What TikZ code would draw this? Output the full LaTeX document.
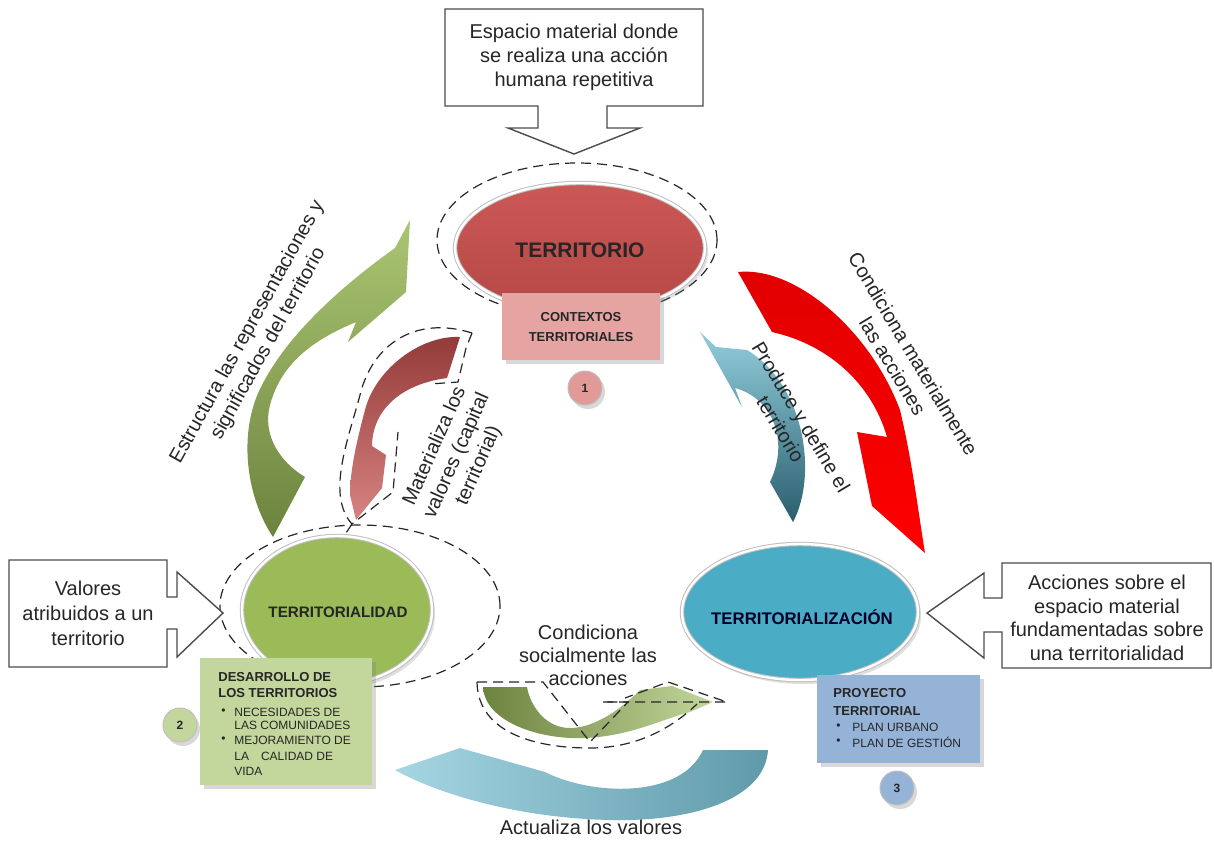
\documentclass[tikz,border=0pt]{standalone}
\usepackage{fontspec}
\setmainfont{Liberation Sans}
\usetikzlibrary{shapes.geometric,shadows}
\definecolor{tRed}{HTML}{C44E4C}
\definecolor{tRedTop}{HTML}{CC5856}
\definecolor{tGreen}{HTML}{9BBB59}
\definecolor{tBlue}{HTML}{4BACC6}
\definecolor{boxRed}{HTML}{E5A3A2}
\definecolor{boxGreen}{HTML}{C3D69B}
\definecolor{boxBlue}{HTML}{95B3D7}
\definecolor{txt}{HTML}{262626}
\begin{document}
\begin{tikzpicture}[x=0.5pt,y=-0.5pt,
  callout/.style={draw=black!70, fill=white, line width=0.7pt, line join=miter},
  ctext/.style={font=\fontsize{10}{12}\selectfont, align=center, inner sep=0pt, text=txt},
  dashline/.style={draw=black!85, dash pattern=on 5pt off 3pt, line width=0.6pt},
  ring/.style={ellipse, dashline, inner sep=0pt},
  mainell/.style={ellipse, draw=black!25, double=white, double distance=1.2pt, line width=0.5pt, inner sep=0pt,
     drop shadow={opacity=0.25, shadow xshift=1.5pt, shadow yshift=-2pt}},
  infobox/.style={rectangle, draw=none, inner sep=0pt,
     drop shadow={opacity=0.3, shadow xshift=2pt, shadow yshift=-2pt}},
  numc/.style={circle, minimum size=17pt, inner sep=0pt, draw=black!25, line width=0.5pt,
     font=\fontsize{6}{7}\selectfont\bfseries, text=txt,
     drop shadow={opacity=0.3, shadow xshift=1.5pt, shadow yshift=-2pt}},
  boxhead/.style={font=\fontsize{6.5}{8}\selectfont\bfseries, anchor=west, inner sep=0pt, text=txt},
  boxitem/.style={font=\fontsize{6}{7}\selectfont, anchor=west, inner sep=0pt, text=txt},
  elltext/.style={font=\bfseries, inner sep=0pt, text=txt}
]
\useasboundingbox (0,0) rectangle (1214,843);
\fill[white] (0,0) rectangle (1214,843);

% dashed rings
\node[ring, minimum width=140pt, minimum height=77pt] (ringT) at (577,240) {};
\node[ring, minimum width=140pt, minimum height=81pt] (ringD) at (360,606) {};

% big green arrow (left)
\shade[top color=tGreen!85!white, bottom color=tGreen!70!black]
  (273,537) .. controls (245,495) and (238,430) .. (262,385)
  .. controls (290,330) and (350,280) .. (395,248) -- (410,220) -- (406,292) -- (348,342) -- (356,322)
  .. controls (318,338) and (282,360) .. (270,405)
  .. controls (262,435) and (280,462) .. (305,477) -- cycle;

% dark red arrow (Materializa)
\shade[top color=tRed!75!black, bottom color=tRed!70!white]
  (460,337) .. controls (420,335) and (375,370) .. (365,410)
  .. controls (357,440) and (350,470) .. (350,495) -- (356,520) -- (382,488) -- (386,455) -- (372,446)
  .. controls (372,415) and (395,385) .. (447,378) -- cycle;
\draw[dashline] (472,333) -- (466,348) -- (458,382) -- (430,384);
\draw[dashline] (472,333) .. controls (415,315) and (372,345) .. (360,395)
  .. controls (348,440) and (326,495) .. (352,524) -- (393,492) -- (398,432);
\draw[dashline] (352,524) -- (340,542);

% bright red arrow (Condiciona materialmente)
\shade[top color=red!88!black, bottom color=red]
  (738,272) .. controls (795,266) and (870,330) .. (900,410)
  .. controls (912,460) and (918,510) .. (925,553) -- (872,506) -- (857,432) -- (887,437)
  .. controls (872,385) and (830,345) .. (772,332) -- cycle;

% blue arrow (Produce y define)
\shade[top color=tBlue!60!white, bottom color=tBlue!55!black]
  (793,522) .. controls (818,475) and (805,385) .. (747,350) -- (716,347) -- (700,332) -- (742,407) -- (735,388)
  .. controls (772,398) and (790,440) .. (770,482) -- cycle;

% bottom blue arrow (Actualiza)
\shade[left color=tBlue!50!white, right color=tBlue!60!gray]
  (768,750) .. controls (765,800) and (690,822) .. (610,820)
  .. controls (520,818) and (440,795) .. (395,770) -- (460,748) -- (545,772)
  .. controls (590,795) and (680,800) .. (703,750) -- cycle;

% small green arrow (Condiciona socialmente)
\shade[left color=tGreen!70!black, right color=tGreen!60!white]
  (483,687) .. controls (485,722) and (540,740) .. (585,738)
  .. controls (630,736) and (660,720) .. (690,712) -- (713,702) -- (672,686) -- (640,690)
  .. controls (615,715) and (590,728) .. (570,728)
  .. controls (545,728) and (530,705) .. (527,687) -- cycle;
\draw[dashline] (477,682) -- (543,682) -- (590,742) -- (628,702) -- (603,702);
\draw[dashline] (603,702) -- (727,702) -- (668,682) -- (625,698);
\draw[dashline] (477,682) .. controls (478,735) and (540,748) .. (590,748)
  .. controls (640,748) and (675,725) .. (697,704);

% main ellipses
\node[mainell, top color=tRedTop, bottom color=tRed!92!black, minimum width=125pt, minimum height=65pt] (terr) at (580,248) {};
\node[elltext, font=\fontsize{10.5}{12}\selectfont\bfseries] (terrT) at (580,250) {TERRITORIO};

\node[mainell, fill=tGreen, minimum width=95pt, minimum height=74pt] (terrD) at (337,610) {};
\node[elltext, font=\fontsize{7.6}{9}\selectfont\bfseries] (terrDT) at (338,612) {TERRITORIALIDAD};

\node[mainell, fill=tBlue, minimum width=118pt, minimum height=68pt] (terrZ) at (800,612) {};
\node[elltext, font=\fontsize{8.4}{10}\selectfont\bfseries, text=black!85!blue] (terrZT) at (802,617) {TERRITORIALIZACIÓN};

% info boxes
\node[infobox, fill=boxRed, minimum width=79pt, minimum height=33.5pt] (ctx) at (581,326) {};
\node[font=\fontsize{6.5}{10}\selectfont\bfseries, align=center, inner sep=0pt, text=txt] (ctxT) at (581,327) {CONTEXTOS\\TERRITORIALES};

\node[infobox, fill=boxGreen, minimum width=86pt, minimum height=63.5pt] (des) at (286,721.5) {};
\node[boxhead] (d1) at (218,677) {DESARROLLO DE};
\node[boxhead] (d2) at (218,693) {LOS TERRITORIOS};
\node[boxitem] (db1) at (221,712) {\textbullet};
\node[boxitem] (d3) at (234,712) {NECESIDADES DE};
\node[boxitem] (d4) at (234,725) {LAS COMUNIDADES};
\node[boxitem] (db2) at (221,740) {\textbullet};
\node[boxitem] (d5) at (234,740) {MEJORAMIENTO DE};
\node[boxitem] (d6) at (234,756) {LA\hspace{6pt}CALIDAD DE};
\node[boxitem] (d7) at (234,771) {VIDA};

\node[infobox, fill=boxBlue, minimum width=81.5pt, minimum height=44pt] (pro) at (898.5,719) {};
\node[boxhead] (p1) at (833,693) {PROYECTO};
\node[boxhead] (p2) at (833,711) {TERRITORIAL};
\node[boxitem] (pb1) at (836,727) {\textbullet};
\node[boxitem] (p3) at (852,727) {PLAN URBANO};
\node[boxitem] (pb2) at (836,742) {\textbullet};
\node[boxitem] (p4) at (852,742) {PLAN DE GESTIÓN};

% numbered circles
\node[numc, fill=boxRed!90!tRed] (n1) at (585,388) {1};
\node[numc, fill=boxGreen] (n2) at (180,725) {2};
\node[numc, fill=boxBlue] (n3) at (897,788) {3};

% callouts
\draw[callout] (445,9) -- (703,9) -- (703,106) -- (607,106) -- (607,128) -- (640,128) -- (574,154)
  -- (508,128) -- (538,128) -- (538,106) -- (445,106) -- cycle;
\node[ctext] (topT) at (574,57) {Espacio material donde\\se realiza una acción\\humana repetitiva};

\draw[callout] (9,560) -- (167,560) -- (167,597) -- (177,597) -- (177,572) -- (223,613) -- (177,657)
  -- (177,629) -- (167,629) -- (167,667) -- (9,667) -- cycle;
\node[ctext, font=\fontsize{10}{12.5}\selectfont] (leftT) at (88,613) {Valores\\atribuidos a un\\territorio};

\draw[callout] (1211,563) -- (1002,563) -- (1002,598) -- (984,598) -- (984,573) -- (927,613) -- (984,658)
  -- (984,632) -- (1002,632) -- (1002,668) -- (1211,668) -- cycle;
\node[ctext, font=\fontsize{10}{11.8}\selectfont] (rightT) at (1107,618) {Acciones sobre el\\espacio material\\fundamentadas sobre\\una territorialidad};

% arrow labels
\node[ctext, rotate=61] (lblE) at (258,338) {Estructura las representaciones y\\significados del territorio};
\node[ctext, rotate=66] (lblM) at (457,456) {Materializa los\\valores (capital\\territorial)};
\node[ctext, rotate=-59] (lblP) at (791,423) {Produce y define el\\territorio};
\node[ctext, rotate=-59] (lblC) at (903,360) {Condiciona materialmente\\las acciones};
\node[ctext, font=\fontsize{10}{11.5}\selectfont] (lblS) at (588,655) {Condiciona\\socialmente las\\acciones};
\node[ctext] (lblA) at (591,827) {Actualiza los valores};
\end{tikzpicture}
\end{document}
